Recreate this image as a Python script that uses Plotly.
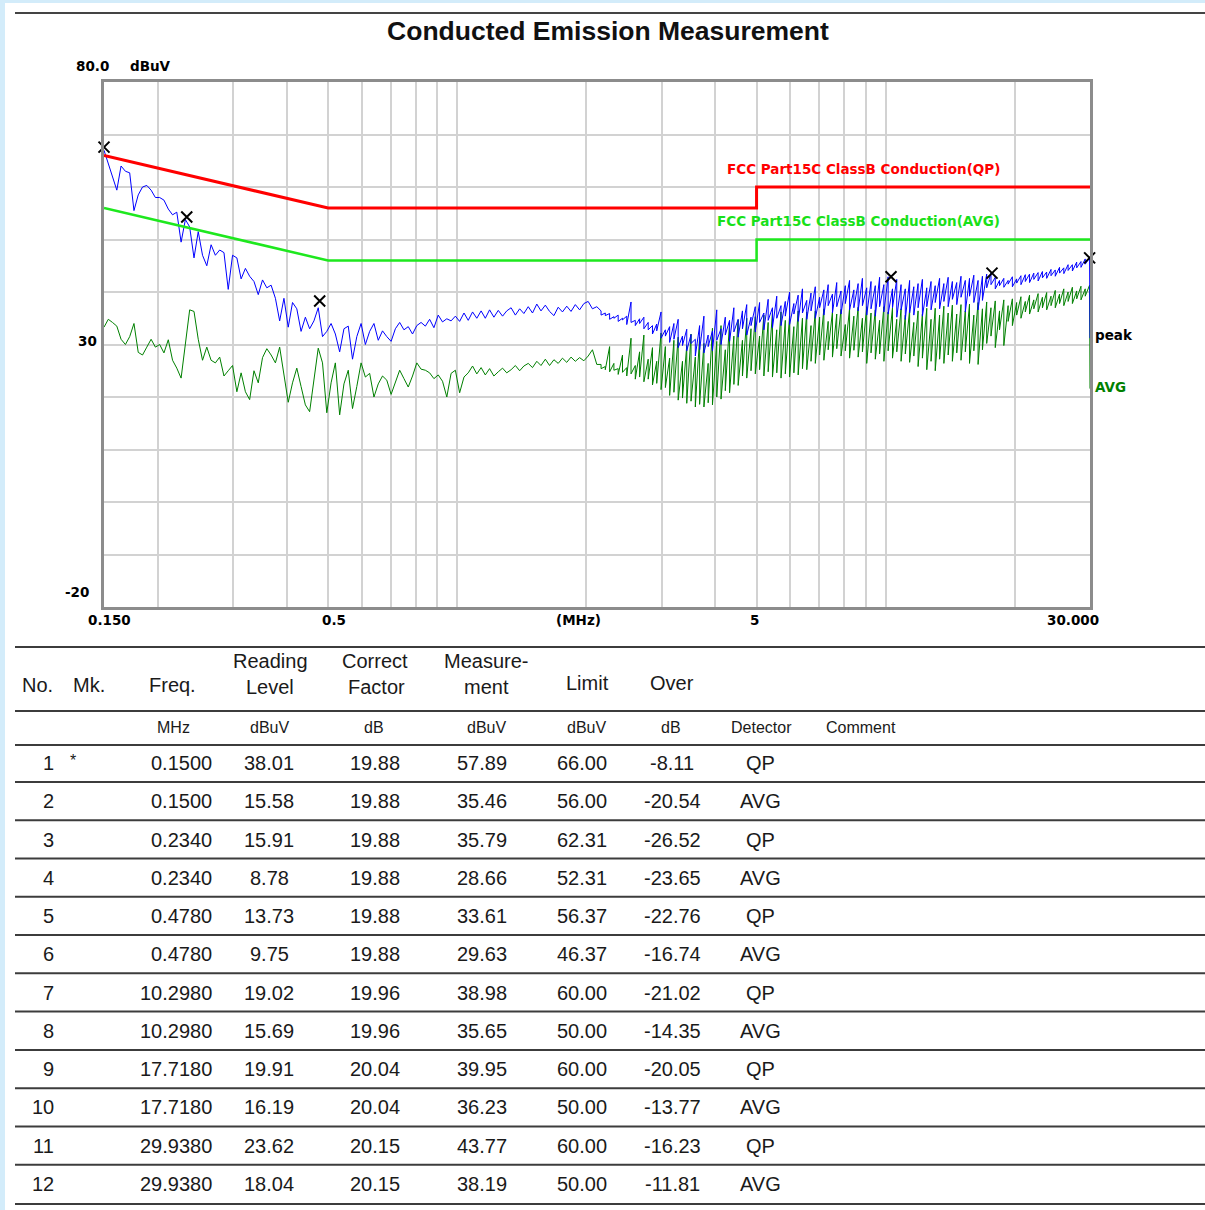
import math
import plotly.graph_objects as go

# ---------------- spectrum data ----------------
# sweep frequencies, MHz (single-valued part of the sweep)
freq_s = [
    0.1500, 0.1535, 0.1570, 0.1607, 0.1644, 0.1683, 0.1722, 0.1762, 0.1803, 0.1845,
    0.1888, 0.1932, 0.1977, 0.2023, 0.2070, 0.2119, 0.2168, 0.2218, 0.2270, 0.2323,
    0.2377, 0.2433, 0.2489, 0.2547, 0.2606, 0.2667, 0.2729, 0.2793, 0.2858, 0.2924,
    0.2993, 0.3063, 0.3134, 0.3207, 0.3281, 0.3358, 0.3436, 0.3516, 0.3598, 0.3682,
    0.3768, 0.3855, 0.3945, 0.4037, 0.4131, 0.4227, 0.4325, 0.4426, 0.4529, 0.4635,
    0.4743, 0.4853, 0.4966, 0.5082, 0.5200, 0.5322, 0.5446, 0.5573, 0.5702, 0.5835,
    0.5971, 0.6110, 0.6253, 0.6398, 0.6548, 0.6700, 0.6856, 0.7016, 0.7179, 0.7347,
    0.7518, 0.7693, 0.7872, 0.8055, 0.8242, 0.8434, 0.8630, 0.8831, 0.9038, 0.9249,
    0.9464, 0.9685, 0.9911, 1.014, 1.038, 1.062, 1.087, 1.112, 1.138, 1.164,
    1.191, 1.219, 1.248, 1.277, 1.306, 1.337, 1.368, 1.400, 1.432, 1.466,
    1.500, 1.535, 1.570, 1.607, 1.644, 1.683, 1.722, 1.762, 1.803, 1.845,
    1.888, 1.932, 1.977, 2.023, 2.070, 2.119,
]
peak_s = [
    67.0, 64.5, 62.0, 59.4, 64.0, 63.0, 62.7, 55.5, 58.5, 60.0,
    60.3, 59.4, 58.0, 58.0, 57.5, 55.8, 54.7, 55.2, 49.5, 53.8,
    52.4, 46.5, 51.5, 47.0, 45.0, 49.0, 47.0, 48.0, 47.5, 40.5,
    47.0, 46.5, 42.5, 44.5, 43.0, 42.0, 39.5, 42.3, 40.8, 41.3,
    38.8, 34.5, 38.8, 33.3, 38.0, 36.8, 32.5, 35.2, 33.0, 34.5,
    37.0, 31.5, 32.5, 34.0, 32.0, 28.6, 33.0, 33.5, 27.2, 31.5,
    34.0, 30.0, 32.5, 34.0, 30.8, 32.6, 31.5, 30.6, 33.0, 34.2,
    32.8, 33.4, 32.0, 33.6, 34.2, 33.5, 34.8, 33.2, 35.6, 34.3,
    34.9, 34.5, 35.4, 34.4, 36.0, 34.6, 36.2, 35.0, 36.4, 35.0,
    36.6, 35.2, 36.5, 35.4, 36.4, 37.0, 35.6, 36.8, 35.9, 37.2,
    36.0, 37.7, 36.4, 37.5, 36.3, 35.5, 37.1, 36.2, 37.3, 36.3,
    37.6, 36.6, 37.8, 38.2, 36.8, 37.2,
]
avg_s = [
    33.3, 34.8, 34.2, 33.5, 31.0, 30.0, 31.5, 34.0, 28.5, 28.0,
    29.5, 31.0, 29.5, 30.0, 28.4, 30.9, 27.0, 25.5, 23.6, 30.3,
    36.6, 36.3, 31.0, 27.0, 29.5, 27.0, 26.5, 27.6, 24.0, 25.0,
    26.0, 21.0, 24.6, 21.0, 19.5, 25.0, 22.7, 27.5, 29.2, 28.0,
    26.5, 29.5, 24.5, 19.0, 22.7, 25.5, 22.0, 18.5, 17.2, 23.5,
    29.3, 26.5, 17.0, 22.7, 26.5, 16.6, 22.5, 25.1, 17.8, 22.0,
    26.5, 23.8, 24.5, 20.0, 22.5, 24.0, 23.2, 20.5, 23.0, 25.1,
    23.5, 21.9, 24.0, 26.5, 25.3, 25.1, 24.6, 23.5, 24.2, 23.0,
    20.0, 24.5, 25.1, 20.8, 23.8, 24.6, 25.9, 24.4, 25.6, 24.2,
    25.4, 24.0, 24.8, 25.5, 24.6, 25.2, 26.0, 25.0, 25.9, 26.4,
    25.6, 26.8, 26.0, 27.2, 26.0, 27.1, 26.4, 27.4, 26.6, 27.6,
    26.8, 27.5, 26.9, 27.8, 29.0, 26.2,
]

# dense part of the sweep: each frequency has a spike top and a spike bottom
freq_d = [
    2.168, 2.218, 2.270, 2.323, 2.377, 2.433, 2.489, 2.547, 2.606, 2.667,
    2.729, 2.793, 2.858, 2.924, 2.993, 3.063, 3.134, 3.207, 3.281, 3.358,
    3.436, 3.516, 3.598, 3.682, 3.768, 3.855, 3.945, 4.037, 4.131, 4.227,
    4.325, 4.426, 4.529, 4.635, 4.743, 4.853, 4.966, 5.082, 5.200, 5.322,
    5.446, 5.573, 5.702, 5.835, 5.971, 6.110, 6.253, 6.398, 6.548, 6.700,
    6.856, 7.016, 7.179, 7.347, 7.518, 7.693, 7.872, 8.055, 8.242, 8.434,
    8.630, 8.831, 9.038, 9.249, 9.464, 9.685, 9.911, 10.14, 10.38, 10.62,
    10.87, 11.12, 11.38, 11.64, 11.91, 12.19, 12.48, 12.77, 13.06, 13.37,
    13.68, 14.00, 14.32, 14.66, 15.00, 15.35, 15.70, 16.07, 16.44, 16.83,
    17.22, 17.62, 18.03, 18.45, 18.88, 19.32, 19.77, 20.23, 20.70, 21.19,
    21.68, 22.18, 22.70, 23.23, 23.77, 24.33, 24.89, 25.47, 26.06, 26.67,
    27.29, 27.93, 28.58, 29.24, 29.93,
]
peak_hi = [
    36.4, 36.0, 35.9, 35.3, 35.6, 35.0, 35.4, 38.1, 34.6, 34.9,
    35.2, 34.2, 33.6, 33.9, 36.2, 32.8, 33.4, 34.0, 34.8, 31.6,
    32.9, 31.9, 31.0, 33.6, 35.4, 31.8, 32.6, 36.6, 33.0, 35.2,
    34.6, 37.0, 34.8, 36.4, 37.6, 35.2, 37.2, 38.0, 36.0, 38.6,
    37.0, 39.2, 37.4, 38.2, 40.0, 37.8, 39.4, 40.6, 38.4, 39.8,
    41.0, 39.0, 40.4, 41.4, 39.6, 41.8, 40.2, 41.2, 42.2, 40.4,
    41.6, 42.6, 40.8, 42.0, 41.2, 42.8, 41.4, 42.9, 40.6, 42.4,
    41.4, 40.6, 42.2, 41.0, 41.6, 42.4, 40.8, 42.0, 41.2, 42.6,
    41.6, 42.8, 42.0, 41.8, 43.0, 42.2, 42.6, 43.2, 42.2, 43.0,
    43.4, 43.6, 42.8, 42.2, 42.6, 42.2, 42.9, 42.5, 43.1, 43.3,
    43.4, 43.6, 43.7, 43.9, 43.8, 44.3, 44.2, 44.7, 44.6, 45.2,
    45.2, 45.7, 45.8, 46.3, 46.5,
]
peak_lo = [
    35.6, 35.5, 34.8, 35.0, 34.4, 34.7, 33.8, 34.2, 33.6, 34.0,
    33.0, 32.8, 32.0, 32.6, 31.2, 31.6, 30.4, 31.0, 29.4, 29.8,
    28.8, 30.2, 27.8, 29.0, 28.4, 29.6, 28.8, 30.8, 30.0, 31.8,
    30.6, 32.4, 31.4, 33.0, 31.8, 33.6, 32.4, 34.2, 32.8, 34.6,
    33.2, 35.0, 33.6, 35.4, 33.8, 35.8, 34.4, 36.0, 34.8, 36.4,
    35.0, 37.0, 35.6, 37.4, 36.0, 37.2, 35.8, 37.8, 36.6, 37.0,
    36.4, 37.4, 35.6, 36.8, 35.4, 37.2, 36.2, 35.8, 37.0, 35.2,
    36.6, 34.8, 36.0, 35.6, 37.0, 35.4, 37.2, 36.6, 38.0, 36.8,
    38.2, 37.2, 38.6, 37.6, 39.0, 36.2, 39.2, 38.0, 36.6, 38.4,
    40.8, 41.4, 40.6, 41.2, 40.9, 41.5, 41.0, 41.7, 41.4, 42.0,
    41.8, 42.4, 42.1, 42.7, 42.6, 43.1, 43.0, 43.6, 43.5, 44.1,
    44.0, 44.6, 44.7, 45.3, 45.6,
]
avg_hi = [
    26.2, 25.8, 29.6, 26.4, 25.4, 28.0, 25.6, 31.2, 26.0, 28.6,
    31.8, 27.2, 29.4, 26.8, 32.2, 29.6, 27.4, 30.8, 31.4, 26.8,
    29.8, 32.0, 27.6, 31.4, 30.2, 26.4, 33.1, 30.6, 33.6, 29.0,
    34.2, 31.6, 34.7, 30.8, 35.0, 33.0, 35.3, 31.6, 35.6, 34.2,
    36.0, 32.8, 36.2, 34.6, 35.4, 33.4, 36.4, 35.0, 36.2, 33.6,
    36.4, 35.2, 36.8, 34.4, 36.2, 35.8, 36.7, 33.8, 36.9, 35.4,
    37.1, 35.0, 37.2, 36.0, 36.6, 34.6, 37.2, 36.2, 37.0, 34.8,
    36.8, 35.6, 36.6, 34.2, 36.4, 35.8, 36.9, 34.8, 36.9, 35.6,
    37.3, 36.0, 37.5, 35.8, 37.6, 36.4, 37.7, 35.6, 38.0, 36.8,
    38.1, 37.0, 38.3, 36.4, 38.5, 37.4, 38.7, 38.0, 39.1, 38.2,
    39.4, 38.5, 39.7, 39.0, 39.9, 39.2, 40.3, 39.6, 40.6, 40.0,
    40.9, 40.2, 41.1, 40.6, 41.3,
]
avg_lo = [
    25.4, 25.2, 24.8, 25.1, 24.3, 24.7, 24.0, 24.4, 23.4, 23.8,
    22.9, 23.4, 22.3, 22.6, 21.4, 21.8, 20.3, 20.9, 19.4, 19.8,
    18.8, 19.2, 18.1, 18.6, 18.1, 18.9, 18.5, 20.0, 19.6, 21.2,
    20.8, 22.4, 22.2, 24.0, 23.6, 25.0, 24.4, 25.2, 24.0, 24.8,
    23.8, 24.6, 23.6, 24.4, 23.8, 24.6, 24.2, 25.4, 25.2, 26.8,
    26.4, 28.0, 27.0, 29.0, 27.6, 29.2, 27.8, 28.8, 27.4, 28.9,
    27.6, 28.6, 26.4, 28.4, 27.2, 28.2, 26.8, 28.8, 27.4, 28.6,
    26.8, 28.2, 26.6, 27.8, 25.8, 27.4, 25.2, 26.8, 25.0, 27.2,
    26.4, 28.0, 26.8, 28.4, 27.0, 28.6, 26.4, 28.8, 26.2, 29.0,
    30.2, 31.6, 29.4, 32.8, 29.8, 34.4, 33.6, 35.6, 35.0, 36.2,
    35.8, 36.8, 36.2, 37.0, 36.6, 37.4, 37.0, 37.8, 37.4, 38.2,
    37.8, 38.7, 38.5, 39.2, 40.0,
]
end_freq = 30.0
peak_end = 31.2
avg_end = 21.6

# limit lines
limit_freq = [0.15, 0.5, 5.0, 5.0, 30.0]
qp_limit = [66.0, 56.0, 56.0, 60.0, 60.0]
avg_limit = [56.0, 46.0, 46.0, 50.0, 50.0]

# markers on the peak trace
mk_freq = [0.150, 0.234, 0.478, 10.298, 17.718, 29.938]
mk_level = [67.6, 54.3, 38.3, 42.9, 43.6, 46.5]

# grid
x_grid = [0.2, 0.3, 0.4, 0.5, 0.6, 0.7, 0.8, 0.9, 1, 2, 3, 4, 5, 6, 7, 8, 9, 10, 20]
y_ticks = [-20, -10, 0, 10, 20, 30, 40, 50, 60, 70, 80]

# ---------------- table data ----------------
tbl_no = ["1", "2", "3", "4", "5", "6", "7", "8", "9", "10", "11", "12"]
tbl_mk = ["*", "", "", "", "", "", "", "", "", "", "", ""]
tbl_freq = ["0.1500", "0.1500", "0.2340", "0.2340", "0.4780", "0.4780",
            "10.2980", "10.2980", "17.7180", "17.7180", "29.9380", "29.9380"]
tbl_reading = ["38.01", "15.58", "15.91", "8.78", "13.73", "9.75",
               "19.02", "15.69", "19.91", "16.19", "23.62", "18.04"]
tbl_factor = ["19.88", "19.88", "19.88", "19.88", "19.88", "19.88",
              "19.96", "19.96", "20.04", "20.04", "20.15", "20.15"]
tbl_measure = ["57.89", "35.46", "35.79", "28.66", "33.61", "29.63",
               "38.98", "35.65", "39.95", "36.23", "43.77", "38.19"]
tbl_limit = ["66.00", "56.00", "62.31", "52.31", "56.37", "46.37",
             "60.00", "50.00", "60.00", "50.00", "60.00", "50.00"]
tbl_over = ["-8.11", "-20.54", "-26.52", "-23.65", "-22.76", "-16.74",
            "-21.02", "-14.35", "-20.05", "-13.77", "-16.23", "-11.81"]
tbl_detector = ["QP", "AVG", "QP", "AVG", "QP", "AVG",
                "QP", "AVG", "QP", "AVG", "QP", "AVG"]

assert len(freq_s) == len(peak_s) == len(avg_s)
assert len(freq_d) == len(peak_hi) == len(peak_lo) == len(avg_hi) == len(avg_lo)

# ---------------- build figure ----------------
W, H = 1205, 1210
L, R, T, B = 104, 1090, 82, 607  # plot area edges in pixels


def px(xp):
    return (xp - L) / (R - L)


def py(yp):
    return (B - yp) / (B - T)


def interleave(freqs, hi, lo):
    xs, ys = [], []
    for f, h, l in zip(freqs, hi, lo):
        xs += [f, f]
        ys += [h, l]
    return xs, ys


dx, dpk = interleave(freq_d, peak_hi, peak_lo)
_, dav = interleave(freq_d, avg_hi, avg_lo)
peak_x = freq_s + dx + [end_freq]
peak_y = peak_s + dpk + [peak_end]
avg_x = freq_s + dx + [end_freq]
avg_y = avg_s + dav + [avg_end]

fig = go.Figure()
fig.add_trace(go.Scatter(x=avg_x, y=avg_y, mode="lines",
                         line=dict(color="#008000", width=1), hoverinfo="skip"))
fig.add_trace(go.Scatter(x=peak_x, y=peak_y, mode="lines",
                         line=dict(color="#0000ff", width=1), hoverinfo="skip"))
fig.add_trace(go.Scatter(x=limit_freq, y=avg_limit, mode="lines",
                         line=dict(color="#1ee81e", width=2.5), hoverinfo="skip"))
fig.add_trace(go.Scatter(x=limit_freq, y=qp_limit, mode="lines",
                         line=dict(color="#ff0000", width=3), hoverinfo="skip"))
fig.add_trace(go.Scatter(x=mk_freq, y=mk_level, mode="markers", cliponaxis=False,
                         marker=dict(symbol="x-thin", size=11, color="black",
                                     line=dict(color="black", width=2)),
                         hoverinfo="skip"))

BMP = "DejaVu Sans"
ann = []


def lab(text, x, y, xref, yref, size=13.5, color="black", xanchor="center",
        yanchor="middle", xshift=0, yshift=0, family=BMP, bold=True):
    ann.append(dict(text=("<b>%s</b>" % text) if bold else text, x=x, y=y,
                    xref=xref, yref=yref, showarrow=False, xanchor=xanchor,
                    yanchor=yanchor, xshift=xshift, yshift=yshift,
                    font=dict(family=family, size=size, color=color)))


# axis labels (chart)
lab("80.0", px(92), 80, "paper", "y", yshift=16)
lab("dBuV", px(150), 80, "paper", "y", yshift=16)
lab("30", px(99), 30, "paper", "y", xanchor="right", yshift=4)
lab("-20", px(91), -20, "paper", "y", xanchor="right", yshift=15)
lab("0.150", math.log10(0.15), py(620), "x", "paper", xshift=5)
lab("0.5", math.log10(0.5), py(620), "x", "paper", xshift=6)
lab("(MHz)", math.log10(1.92), py(620), "x", "paper")
lab("5", math.log10(5), py(620), "x", "paper", xshift=-2)
lab("30.000", math.log10(30), py(620), "x", "paper", xshift=-17)
lab("FCC Part15C ClassB Conduction(QP)", px(1002), 63.4, "paper", "y",
    size=13.5, color="#ff0000", xanchor="right")
lab("FCC Part15C ClassB Conduction(AVG)", px(1002), 53.5, "paper", "y",
    size=13.5, color="#19e019", xanchor="right")
lab("peak", math.log10(30), 31.8, "x", "y", xanchor="left", xshift=3)
lab("AVG", math.log10(30), 21.9, "x", "y", color="#008000", xanchor="left", xshift=3)

# ---------------- table ----------------
TF = "Liberation Sans"
TC = "#1a1a1a"
row_y = [763 + 38.27 * i for i in range(12)]
for i in range(12):
    yy = py(row_y[i])
    lab(tbl_no[i], px(56), yy, "paper", "paper", size=20, color=TC, family=TF,
        bold=False, xanchor="right")
    if tbl_mk[i]:
        lab(tbl_mk[i], px(73), yy, "paper", "paper", size=16, color=TC, family=TF,
            bold=False, yshift=3)
    lab(tbl_freq[i], px(214), yy, "paper", "paper", size=20, color=TC, family=TF,
        bold=False, xanchor="right")
    lab(tbl_reading[i], px(269), yy, "paper", "paper", size=20, color=TC, family=TF, bold=False)
    lab(tbl_factor[i], px(375), yy, "paper", "paper", size=20, color=TC, family=TF, bold=False)
    lab(tbl_measure[i], px(482), yy, "paper", "paper", size=20, color=TC, family=TF, bold=False)
    lab(tbl_limit[i], px(582), yy, "paper", "paper", size=20, color=TC, family=TF, bold=False)
    lab(tbl_over[i], px(672), yy, "paper", "paper", size=20, color=TC, family=TF, bold=False)
    lab(tbl_detector[i], px(760), yy, "paper", "paper", size=20, color=TC, family=TF, bold=False)

headers = [("No.", 37, 685), ("Mk.", 89, 685), ("Freq.", 172, 685),
           ("Reading", 270, 661), ("Level", 270, 687),
           ("Correct", 375, 661), ("Factor", 376, 687),
           ("Measure-", 486, 661), ("ment", 486, 687),
           ("Limit", 587, 683), ("Over", 672, 683)]
for t, xx, yy in headers:
    lab(t, px(xx), py(yy), "paper", "paper", size=20, color=TC, family=TF, bold=False)

units = [("MHz", 173), ("dBuV", 269), ("dB", 374), ("dBuV", 486), ("dBuV", 586),
         ("dB", 671), ("Detector", 761), ("Comment", 861)]
for t, xx in units:
    lab(t, px(xx), py(727), "paper", "paper", size=16, color=TC, family=TF, bold=False)

shapes = []
# page background (white card over light blue)
shapes.append(dict(type="rect", xref="paper", yref="paper", layer="below",
                   x0=px(5), x1=px(1230), y0=py(1230), y1=py(3),
                   fillcolor="white", line=dict(width=0)))
# top rule
shapes.append(dict(type="line", xref="paper", yref="paper", x0=px(15), x1=px(1230),
                   y0=py(13), y1=py(13), line=dict(color="#444444", width=2)))
# table rules
table_lines = [647, 711, 745] + [782 + 38.27 * i for i in range(11)] + [1204]
for yl in table_lines:
    shapes.append(dict(type="line", xref="paper", yref="paper", x0=px(15), x1=px(1230),
                       y0=py(yl), y1=py(yl), line=dict(color="#3c3c3c", width=2)))

fig.update_layout(
    width=W, height=H,
    margin=dict(l=L, r=W - R, t=T, b=H - B, pad=0),
    paper_bgcolor="#d3ecfa",
    plot_bgcolor="white",
    showlegend=False,
    title=dict(text="<b>Conducted Emission Measurement</b>", xref="container",
               yref="container", x=608 / W, y=1 - 31 / H, xanchor="center",
               yanchor="middle", font=dict(family="Liberation Sans", size=26.5, color="#111111")),
    annotations=ann,
    shapes=shapes,
    xaxis=dict(type="log", range=[math.log10(0.15), math.log10(30)],
               tickvals=x_grid, showticklabels=False, ticks="",
               showgrid=True, gridcolor="#d2d2d2", gridwidth=1.5,
               showline=True, linecolor="#8c8c8c", linewidth=2.5, mirror=True,
               zeroline=False, fixedrange=True),
    yaxis=dict(range=[-20, 80], tickvals=y_ticks, showticklabels=False, ticks="",
               showgrid=True, gridcolor="#d2d2d2", gridwidth=1.5,
               showline=True, linecolor="#8c8c8c", linewidth=2.5, mirror=True,
               zeroline=False, fixedrange=True),
)

fig.write_html("out.html")
